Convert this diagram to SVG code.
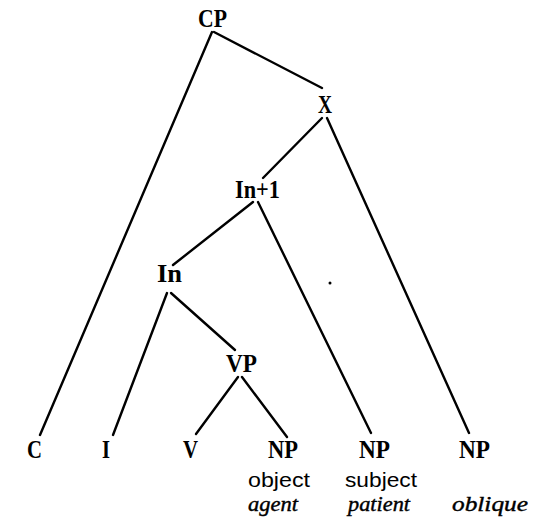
<svg xmlns="http://www.w3.org/2000/svg" width="535" height="519" viewBox="0 0 535 519">
<style>
.lbl{font-family:"Liberation Serif","Times New Roman",serif;font-weight:bold;font-size:26px;fill:#000}
.fn{font-family:"Liberation Sans",Arial,sans-serif;font-size:21px;fill:#000}
.th{font-family:"Liberation Serif","Times New Roman",serif;font-style:italic;font-size:21px;fill:#000;stroke:#000;stroke-width:0.4}
.edge{stroke:#000;stroke-width:2.4;stroke-linecap:round;fill:none}
</style>
<rect width="535" height="519" fill="#fff"/>
<g id="connectors">
<line class="edge" x1="212" y1="32" x2="40" y2="435"/>
<line class="edge" x1="214" y1="32" x2="322" y2="88"/>
<line class="edge" x1="322" y1="118" x2="263" y2="178"/>
<line class="edge" x1="327" y1="118" x2="469" y2="433"/>
<line class="edge" x1="253" y1="202" x2="173" y2="265"/>
<line class="edge" x1="258" y1="202" x2="371" y2="433"/>
<line class="edge" x1="167" y1="293" x2="113" y2="435"/>
<line class="edge" x1="171" y1="293" x2="235" y2="350"/>
<line class="edge" x1="238" y1="377" x2="196" y2="434"/>
<line class="edge" x1="242" y1="377" x2="287" y2="437"/>
</g>
<g id="CP"><text class="lbl" x="198" y="27" textLength="29" lengthAdjust="spacingAndGlyphs">CP</text></g>
<g id="X"><text class="lbl" x="318" y="113" font-size="27" textLength="14" lengthAdjust="spacingAndGlyphs">X</text></g>
<g id="In1"><text class="lbl" x="235" y="198" textLength="45" lengthAdjust="spacingAndGlyphs">In+1</text></g>
<g id="In"><text class="lbl" x="157" y="282" textLength="25" lengthAdjust="spacingAndGlyphs">In</text></g>
<g id="VP"><text class="lbl" x="226" y="372" textLength="31" lengthAdjust="spacingAndGlyphs">VP</text></g>
<g id="C"><text class="lbl" x="27" y="458" textLength="15" lengthAdjust="spacingAndGlyphs">C</text></g>
<g id="I"><text class="lbl" x="102" y="458" textLength="8" lengthAdjust="spacingAndGlyphs">I</text></g>
<g id="V"><text class="lbl" x="183" y="458" textLength="15" lengthAdjust="spacingAndGlyphs">V</text></g>
<g id="NP-object">
<text class="lbl" x="268" y="458" textLength="30" lengthAdjust="spacingAndGlyphs">NP</text>
<text class="fn" x="248" y="487" textLength="62" lengthAdjust="spacingAndGlyphs">object</text>
<text class="th" x="248" y="511" textLength="50" lengthAdjust="spacingAndGlyphs">agent</text>
</g>
<g id="NP-subject">
<text class="lbl" x="359" y="458" textLength="31" lengthAdjust="spacingAndGlyphs">NP</text>
<text class="fn" x="345" y="487" textLength="72" lengthAdjust="spacingAndGlyphs">subject</text>
<text class="th" x="348" y="511" textLength="62" lengthAdjust="spacingAndGlyphs">patient</text>
</g>
<g id="NP-oblique">
<text class="lbl" x="459" y="458" textLength="31" lengthAdjust="spacingAndGlyphs">NP</text>
<text class="th" x="452" y="511" textLength="76" lengthAdjust="spacingAndGlyphs">oblique</text>
</g>
<circle cx="330" cy="283" r="1.5" fill="#000"/>
</svg>
